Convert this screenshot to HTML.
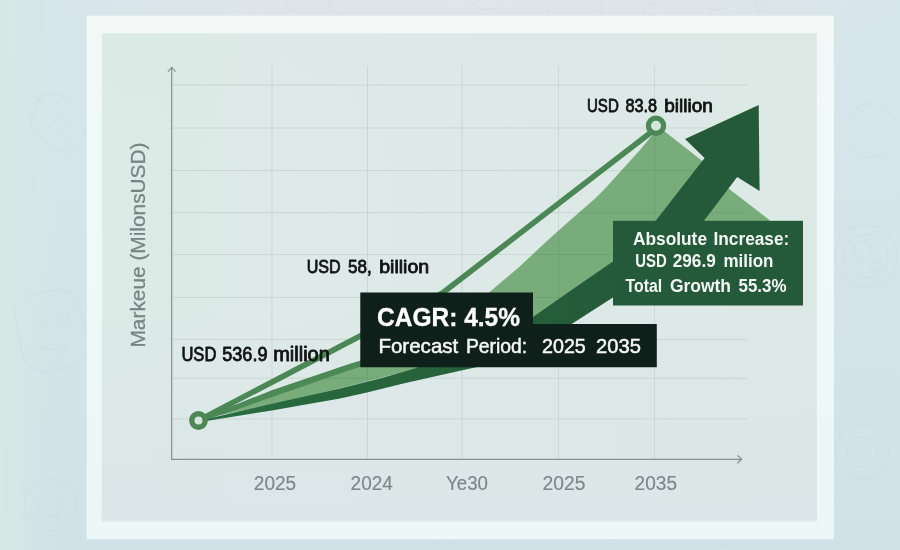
<!DOCTYPE html>
<html lang="en">
<head>
<meta charset="utf-8">
<title>Market Growth Forecast</title>
<style>
html,body{margin:0;padding:0;}
body{width:900px;height:550px;overflow:hidden;background:#d3e3e9;font-family:"Liberation Sans",sans-serif;}
svg{display:block;}
text{font-family:"Liberation Sans",sans-serif;}
</style>
</head>
<body>
<svg width="900" height="550" viewBox="0 0 900 550">
  <defs>
    <linearGradient id="bgV" x1="0" y1="0" x2="0" y2="1">
      <stop offset="0" stop-color="#d7e6eb"/>
      <stop offset="0.5" stop-color="#d4e4ea"/>
      <stop offset="1" stop-color="#d0e2e8"/>
    </linearGradient>
    <linearGradient id="bgL" x1="0" y1="0" x2="1" y2="0">
      <stop offset="0" stop-color="#d7e9e2" stop-opacity="0.9"/>
      <stop offset="0.03" stop-color="#d6e8e4" stop-opacity="0.5"/>
      <stop offset="0.07" stop-color="#d6e8e4" stop-opacity="0"/>
    </linearGradient>
    <radialGradient id="bgT" gradientUnits="userSpaceOnUse" cx="480" cy="0" r="100" gradientTransform="translate(480 0) scale(4.2 0.75) translate(-480 0)">
      <stop offset="0" stop-color="#dfe5e9" stop-opacity="1"/>
      <stop offset="0.55" stop-color="#dfe5e9" stop-opacity="0.8"/>
      <stop offset="1" stop-color="#dde5ea" stop-opacity="0"/>
    </radialGradient>
    <linearGradient id="frame" x1="0" y1="0" x2="0" y2="1">
      <stop offset="0" stop-color="#f3f7f6"/>
      <stop offset="0.2" stop-color="#f0f9f9"/>
      <stop offset="1" stop-color="#ecf7f8"/>
    </linearGradient>
    <linearGradient id="panel" x1="0" y1="0" x2="1" y2="0">
      <stop offset="0" stop-color="#dcebe6"/>
      <stop offset="0.25" stop-color="#ddeae7"/>
      <stop offset="0.6" stop-color="#dde9e6"/>
      <stop offset="1" stop-color="#dce9e5"/>
    </linearGradient>
    <linearGradient id="panelV" x1="0" y1="0" x2="0" y2="1">
      <stop offset="0" stop-color="#d9e6e1" stop-opacity="0.15"/>
      <stop offset="0.3" stop-color="#dde9e6" stop-opacity="0"/>
      <stop offset="0.55" stop-color="#dbe6e8" stop-opacity="0"/>
      <stop offset="1" stop-color="#dbe6e8" stop-opacity="0.9"/>
    </linearGradient>
    <linearGradient id="swoosh" gradientUnits="userSpaceOnUse" x1="200" y1="420" x2="640" y2="260">
      <stop offset="0" stop-color="#2a6d42"/>
      <stop offset="0.6" stop-color="#256039"/>
      <stop offset="1" stop-color="#24593a"/>
    </linearGradient>
    <clipPath id="mclip"><path d="M200 419 L236 404.800 L272 390.500 L350 364 L361 360.800 L489 292.500 L520 266.200 L548 240 L571 219.500 L594 199.500 Q600 194 606 187.500 L640 150 L659 127 L703 161.500 L728.500 188.500 L770 220.500 L700 240 L613 270 L533 320 L414 369 L361 383 L272 405 Z"/></clipPath>
  </defs>
  <!-- page background -->
  <rect x="0" y="0" width="900" height="550" fill="url(#bgV)"/>
  <rect x="0" y="0" width="900" height="120" fill="url(#bgT)"/>
  <rect x="0" y="0" width="900" height="550" fill="url(#bgL)"/>
  <!-- faint background sketches -->
  <g fill="none" stroke="#c2d3d9" stroke-opacity="0.220" stroke-width="1.400" stroke-linecap="round">
    <path d="M38 100 q10 -10 24 -4 l22 14 q8 8 2 20 l-10 18 q-8 8 -18 2 l-22 -16 q-8 -10 -2 -22 z"/>
    <path d="M50 112 l26 18 M46 124 l24 16 M58 104 l-6 -8 M33 97 l8 6"/>
    <rect x="18" y="292" width="66" height="78" rx="22" transform="rotate(-12 50 330)"/>
    <circle cx="42" cy="322" r="4"/><circle cx="64" cy="318" r="4"/>
    <path d="M40 346 q12 8 26 -2"/>
    <circle cx="50" cy="505" r="26"/><circle cx="50" cy="505" r="12"/>
    <circle cx="866" cy="256" r="31"/><circle cx="866" cy="256" r="22"/><circle cx="862" cy="250" r="9"/><circle cx="876" cy="266" r="5"/>
    <circle cx="862" cy="452" r="27"/><circle cx="862" cy="452" r="15"/>
    <path d="M846 120 q20 -30 44 -6 M852 150 q16 14 36 2"/>
    <path d="M286 0 q4 14 18 12 M330 0 q-2 10 10 14 M470 0 q12 16 30 6 M540 0 l10 12 M600 2 q6 12 -2 14 M650 4 a6 6 0 1 0 0.100 0 M700 0 q10 14 22 8 M760 2 a5 5 0 1 0 0.100 0"/>
    <path d="M220 540 q30 -14 60 4 M420 548 q20 -10 44 -2 M600 544 q24 -12 50 2 M720 548 q14 -8 30 0"/>
  </g>
  <!-- frame -->
  <rect x="86.700" y="15.700" width="747.200" height="523.500" fill="url(#frame)"/>
  <rect x="101.800" y="33.300" width="715" height="488" fill="url(#panel)"/>
  <rect x="101.800" y="33.300" width="715" height="488" fill="url(#panelV)"/>

  <!-- grid -->
  <g stroke="#c6d3cf" stroke-width="0.850" fill="none">
    <path d="M172 85H747 M172 128H747 M172 170.500H747 M172 212.700H747 M172 254.500H747 M172 297.500H747 M172 339.500H747 M172 378.300H747 M172 419H747"/>
    <path d="M272 66V459 M367.500 66V459 M462 66V459 M558.500 66V459 M654.500 66V459"/>
  </g>
  <!-- axes -->
  <g stroke="#85918e" stroke-width="1.200" fill="none" stroke-linecap="round" stroke-linejoin="round">
    <path d="M171.700 459.300V68"/>
    <path d="M168.200 71.300L171.700 67.300L175.200 71.300"/>
    <path d="M171.700 459.300H741"/>
    <path d="M737.700 455.600L741.700 459.300L737.700 463"/>
  </g>

  <!-- light green mountain -->
  <path d="M200 419 L236 404.800 L272 390.500 L350 364 L361 360.800 L489 292.500 L520 266.200 L548 240 L571 219.500 L594 199.500 Q600 194 606 187.500 L640 150 L659 127 L703 161.500 L728.500 188.500 L770 220.500 L700 240 L613 270 L533 320 L414 369 L361 383 L272 405 Z" fill="#78ac7b"/>
  <g clip-path="url(#mclip)" stroke="#5d9566" stroke-opacity="0.45" stroke-width="1" fill="none">
    <path d="M172 128H747 M172 170.500H747 M172 212.700H747 M172 254.500H747 M172 297.500H747 M172 339.500H747 M172 378.300H747"/>
    <path d="M272 66V459 M367.500 66V459 M462 66V459 M558.500 66V459 M654.500 66V459"/>
  </g>
  <!-- wedge upper border -->
  <path d="M199 418.500 L236 404.500 L272 390.300 L350 363.800 L362 360.200 V366.300 L350 370.100 L272 396.900 L236 410 L199 422 Z" fill="#4c8956"/>
  <!-- swoosh + arrow -->
  <path d="M200 420.500 L272 403.700 L300 397.500 L340 388.600 L361 383.200 L380 378.500 L414.600 368.500 L533 317 L573 289 L613.300 261.300 L655.500 221 L704.600 158 L685 139 L758.700 105 L759.600 191 L737.200 177 L703.800 221 L613.300 297.300 L572.400 323.500 L477 367 L433.300 376.800 L402.200 383.800 L368 392.200 L340 398.600 L300 405.400 L272 410.500 L203 421.500 Z" fill="url(#swoosh)"/>

  <!-- thin line -->
  <path d="M198.500 420.500 L442.500 293 L656 128.500" fill="none" stroke="#4b8856" stroke-width="5.600" stroke-linejoin="round"/>

  <!-- Absolute box -->
  <rect x="613" y="220.800" width="190" height="84.700" fill="#24593a"/>
  <!-- CAGR box -->
  <path d="M360.300 292.400H533V324H656.800V367.300H360.300Z" fill="#0f1f1a"/>

  <!-- markers -->
  <circle cx="198.500" cy="420.500" r="6.700" fill="#d7e6dd" stroke="#4b8856" stroke-width="5.400"/>
  <circle cx="656" cy="125.800" r="7.600" fill="#d7e6dd" stroke="#4b8856" stroke-width="5.200"/>

  <!-- labels -->
  <g fill="#101312" stroke="#101312" stroke-width="0.800" stroke-linejoin="round">
    <text y="111.700" font-size="18.300"><tspan x="587" textLength="31.800" lengthAdjust="spacingAndGlyphs">USD</tspan> <tspan x="625.500" textLength="31.600" lengthAdjust="spacingAndGlyphs">83.8</tspan> <tspan x="664.200" textLength="48.600" lengthAdjust="spacingAndGlyphs">billion</tspan></text>
    <text y="272.600" font-size="18.200"><tspan x="306.700" textLength="34" lengthAdjust="spacingAndGlyphs">USD</tspan> <tspan x="348" textLength="23.700" lengthAdjust="spacingAndGlyphs">58,</tspan> <tspan x="379.200" textLength="50" lengthAdjust="spacingAndGlyphs">billion</tspan></text>
    <text y="360.600" font-size="19.300"><tspan x="181.400" textLength="35" lengthAdjust="spacingAndGlyphs">USD</tspan> <tspan x="222.200" textLength="45.300" lengthAdjust="spacingAndGlyphs">536.9</tspan> <tspan x="273.200" textLength="56.700" lengthAdjust="spacingAndGlyphs">million</tspan></text>
  </g>
  <g fill="#f4f8f5" font-weight="bold" font-size="17.600">
    <text y="244.900"><tspan x="633" textLength="74" lengthAdjust="spacingAndGlyphs">Absolute</tspan> <tspan x="713.500" textLength="75.800" lengthAdjust="spacingAndGlyphs">Increase:</tspan></text>
    <text y="267.100"><tspan x="635.300" textLength="31.500" lengthAdjust="spacingAndGlyphs">USD</tspan> <tspan x="672.700" textLength="43.100" lengthAdjust="spacingAndGlyphs">296.9</tspan> <tspan x="723.500" textLength="50" lengthAdjust="spacingAndGlyphs">milion</tspan></text>
    <text y="292"><tspan x="625.500" textLength="36.700" lengthAdjust="spacingAndGlyphs">Total</tspan> <tspan x="669.900" textLength="61.100" lengthAdjust="spacingAndGlyphs">Growth</tspan> <tspan x="738.500" textLength="48" lengthAdjust="spacingAndGlyphs">55.3%</tspan></text>
  </g>
  <text x="377" y="326.100" fill="#fff" stroke="#fff" stroke-width="0.350" font-weight="bold" font-size="26" textLength="143" lengthAdjust="spacingAndGlyphs">CAGR: 4.5%</text>
  <g fill="#f6f8f7" stroke="#f6f8f7" stroke-width="0.500" font-size="20.400">
    <text x="378.400" y="353.300" textLength="79.900" lengthAdjust="spacingAndGlyphs">Forecast</text>
    <text x="465.900" y="353.300" textLength="61.300" lengthAdjust="spacingAndGlyphs">Period:</text>
    <text x="542" y="353.300" textLength="43.800" lengthAdjust="spacingAndGlyphs">2025</text>
    <text x="596.100" y="353.300" textLength="44.800" lengthAdjust="spacingAndGlyphs">2035</text>
  </g>

  <g fill="#7c878a" stroke="#7c878a" stroke-width="0.150" font-size="20.300">
    <text x="253.800" y="490" textLength="42.400" lengthAdjust="spacingAndGlyphs">2025</text>
    <text x="350.600" y="490" textLength="42.300" lengthAdjust="spacingAndGlyphs">2024</text>
    <text x="446" y="490" textLength="42" lengthAdjust="spacingAndGlyphs">Ye30</text>
    <text x="542.600" y="490" textLength="42.900" lengthAdjust="spacingAndGlyphs">2025</text>
    <text x="634.600" y="490" textLength="42.400" lengthAdjust="spacingAndGlyphs">2035</text>
  </g>
  <text transform="translate(144.500 347.500) rotate(-90)" fill="#788383" stroke="#788383" stroke-width="0.250" font-size="19.300" textLength="205" lengthAdjust="spacingAndGlyphs">Markeue (MilonsUSD)</text>
</svg>
</body>
</html>
